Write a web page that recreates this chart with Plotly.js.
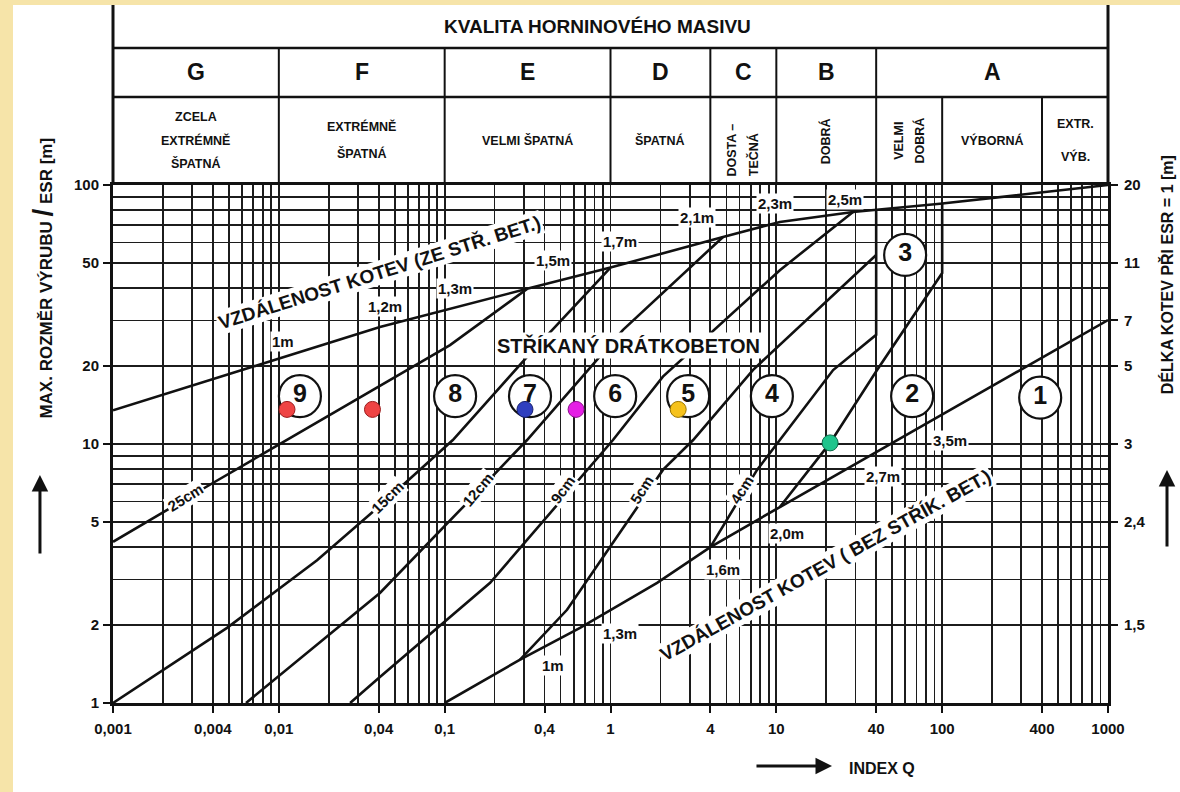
<!DOCTYPE html>
<html>
<head>
<meta charset="utf-8">
<script src="https://cdn.plot.ly/plotly-3.0.1.min.js"></script>
<style>
  html, body { margin: 0; padding: 0; background: #f6e4a9; overflow: hidden; }
  #chart { position: absolute; left: 13px; top: 5px; width: 1167px; height: 787px; background: #fff; }
</style>
</head>
<body>
<div id="chart"></div>
<script>
// Q-system support chart: rock mass quality index Q vs. span / ESR

// Rock mass classes (header)
const classBounds  = [0.001, 0.01, 0.1, 1, 4, 10, 40, 1000];
const classLetters = ['G', 'F', 'E', 'D', 'C', 'B', 'A'];
const descBounds   = [0.001, 0.01, 0.1, 1, 4, 10, 40, 100, 400, 1000];
const descLines    = [
  ['ZCELA', 'EXTRÉMNĚ', 'ŠPATNÁ'],
  ['EXTRÉMNĚ', 'ŠPATNÁ'],
  ['VELMI ŠPATNÁ'],
  ['ŠPATNÁ'],
  ['DOSTA –', 'TEČNÁ'],
  ['DOBRÁ'],
  ['VELMI', 'DOBRÁ'],
  ['VÝBORNÁ'],
  ['EXTR.', 'VÝB.']
];
const descVertical = [false, false, false, false, true, true, true, false, false];

// Axis ticks
const qTicks     = [0.001, 0.004, 0.01, 0.04, 0.1, 0.4, 1, 4, 10, 40, 100, 400, 1000];
const qTickText  = ['0,001', '0,004', '0,01', '0,04', '0,1', '0,4', '1', '4', '10', '40', '100', '400', '1000'];
const esrTicks   = [1, 2, 5, 10, 20, 50, 100];
const boltLenAt  = [100, 50, 30, 20, 10, 5, 2];
const boltLenTxt = ['20', '11', '7', '5', '3', '2,4', '1,5'];

// Bolt spacing in shotcreted area
const qBoltShot   = [0.001, 0.0407, 0.327, 1, 4.77, 10.5, 29, 97, 1000];
const esrBoltShot = [13.5, 28.3, 40, 48, 63, 72, 78.7, 84.6, 100];
// Bolt spacing in area without shotcrete
const qBoltBare   = [0.1, 0.285, 0.655, 1.91, 4, 10.5, 1000];
const esrBoltBare = [1, 1.47, 1.95, 2.91, 4, 5.71, 30.1];

// Fibre-reinforced shotcrete thickness boundaries
const q25 = [0.001, 0.004, 0.1077, 0.314];
const e25 = [4.19, 7.07, 24.1, 39.7];
const q15 = [0.001, 0.00487, 0.017, 0.0425, 0.112, 0.314, 1];
const e15 = [1, 1.95, 3.56, 5.92, 10.36, 21.7, 48];
const q12 = [0.00634, 0.0407, 0.129, 0.314, 1.19, 4.77];
const e12 = [1, 2.66, 5.71, 10.36, 27.6, 63];
const q9  = [0.0269, 0.0407, 0.188, 0.414, 1.035, 2.07, 10.5, 29];
const e9  = [1, 1.26, 2.91, 5.23, 10.36, 18.2, 46.9, 78.7];
const q5  = [0.285, 0.547, 0.993, 2.07, 3.15, 7.22, 40];
const e5  = [1.47, 2.29, 4.0, 7.94, 10.36, 19.3, 53.7];
const q4  = [4, 7.65, 10.5, 22, 40, 40];
const e4  = [4, 7.94, 10.36, 19.3, 26.4, 80.3];
// Boundary between systematic and spot bolting
const qSpot = [10.5, 21.1, 40.5, 100, 100];
const eSpot = [5.71, 10.1, 19.3, 45.7, 84.6];

// Support categories 1–9
const catText = ['1', '2', '3', '4', '5', '6', '7', '8', '9'];
const catQ    = [390, 65.9, 59.8, 9.4, 2.94, 1.067, 0.327, 0.1156, 0.0134];
const catESR  = [15.1, 15.3, 53.7, 15.3, 15.3, 15.3, 15.3, 15.3, 15.3];

// Evaluated cases
const caseQ      = [0.0112, 0.0367, 0.305, 0.62, 2.56, 21.1];
const caseESR    = [13.6, 13.6, 13.6, 13.6, 13.6, 10.1];
const caseColor  = ['#ef4444', '#ef4444', '#2f3fbf', '#e51fe5', '#f6c21c', '#1fc48c'];
const caseEdge   = ['#9a1c1c', '#9a1c1c', '#17206e', '#8a108a', '#9a7400', '#0d6b4a'];

// Line labels
const shotLabText = ['1m', '1,2m', '1,3m', '1,5m', '1,7m', '2,1m', '2,3m', '2,5m'];
const shotLabQ    = [0.0106, 0.0437, 0.1154, 0.45, 1.14, 3.33, 9.82, 25.9];
const shotLabE    = [24.8, 34.1, 40, 51.3, 60.3, 74.6, 85.2, 88.3];
const bareLabText = ['1m', '1,3m', '1,6m', '2,0m', '2,7m', '3,5m'];
const bareLabQ    = [0.45, 1.14, 4.77, 11.6, 44, 111];
const bareLabE    = [1.39, 1.86, 3.27, 4.53, 7.46, 10.36];
const thickText   = ['25cm', '15cm', '12cm', '9cm', '5cm', '4cm'];
const thickQ      = [0.00272, 0.0449, 0.159, 0.517, 1.55, 6.21];
const thickE      = [6.24, 6.24, 6.65, 6.65, 6.65, 6.65];
const thickAngle  = [-32, -45, -50, -55, -58, -58];

const FONT = 'Liberation Sans, Arial, Helvetica, sans-serif';
const INK = '#111111';
const log = Math.log10;
const PLOT_H = 518;                   // plot area height in px
const PLOT_W = 995;                   // plot area width in px
const above = px => 1 + px / PLOT_H;  // paper y for a height above the plot area

// log grid (2..9 in every decade)
const minorQ = [];
for (let k = -3; k < 3; k++) for (let d = 2; d <= 9; d++) minorQ.push(d * Math.pow(10, k));
const minorE = [];
for (let k = 0; k < 2; k++) for (let d = 2; d <= 9; d++) minorE.push(d * Math.pow(10, k));

const lineStyle = { color: INK, width: 2.6 };
const curve = (x, y) => ({ x, y, mode: 'lines', line: lineStyle, hoverinfo: 'skip' });

const traces = [
  curve(qBoltShot, esrBoltShot),
  curve(qBoltBare, esrBoltBare),
  curve(q25, e25), curve(q15, e15), curve(q12, e12), curve(q9, e9),
  curve(q5, e5), curve(q4, e4), curve(qSpot, eSpot),
  {
    x: catQ, y: catESR, text: catText, mode: 'markers+text', textposition: 'middle center',
    marker: { size: 42, color: '#fff', line: { color: INK, width: 2.2 } },
    textfont: { family: FONT, size: 25, color: INK, weight: 700 }, hoverinfo: 'skip'
  },
  {
    x: caseQ, y: caseESR, mode: 'markers',
    marker: { size: 16, color: caseColor, line: { color: caseEdge, width: 1 } }, hoverinfo: 'skip'
  },
  { x: [1], y: [1], yaxis: 'y2', mode: 'markers', marker: { opacity: 0 }, hoverinfo: 'skip' }
];

const ann = [];
const bold = size => ({ family: FONT, size, color: INK, weight: 700 });
const txt = (q, e, text, size, extra) => Object.assign({
  xref: 'x', yref: 'y', x: log(q), y: log(e), text, showarrow: false,
  xanchor: 'center', yanchor: 'middle',
  font: bold(size), bgcolor: '#fff', borderpad: 1
}, extra || {});
// annotation placed in paper units, centred on its point
const note = (x, y, text, size, extra) => Object.assign({
  xref: 'paper', yref: 'paper', x, y, text, showarrow: false,
  xanchor: 'center', yanchor: 'middle', font: bold(size)
}, extra || {});

shotLabText.forEach((t, i) => ann.push(txt(shotLabQ[i], shotLabE[i], t, 15)));
bareLabText.forEach((t, i) => ann.push(txt(bareLabQ[i], bareLabE[i], t, 15)));
thickText.forEach((t, i) => ann.push(txt(thickQ[i], thickE[i], t, 15, { textangle: thickAngle[i] })));

ann.push(txt(0.0407, 46.1, 'VZDÁLENOST KOTEV (ZE STŘ. BET.)', 19, { textangle: -17.5 }));
ann.push(txt(1.276, 24.1, 'STŘÍKANÝ DRÁTKOBETON', 20));
ann.push(txt(19.7, 3.41, 'VZDÁLENOST KOTEV ( BEZ STŘÍK. BET.)', 19, { textangle: -29 }));

// header
ann.push(note(0.487, above(158), 'KVALITA HORNINOVÉHO MASIVU', 19));
classLetters.forEach((c, i) => ann.push({
  xref: 'x', yref: 'paper', x: (log(classBounds[i]) + log(classBounds[i + 1])) / 2, y: above(113),
  xanchor: 'center', yanchor: 'middle', text: c, showarrow: false, font: bold(23)
}));
descLines.forEach((lines, i) => {
  const mid = (log(descBounds[i]) + log(descBounds[i + 1])) / 2;
  const n = lines.length;
  lines.forEach((t, j) => {
    if (descVertical[i]) {
      const off = (j - (n - 1) / 2) * 0.125;   // column offset in decades
      ann.push({ xref: 'x', yref: 'paper', x: mid + off, y: above(i === 4 ? 7 : 44),
        xanchor: 'center', yanchor: i === 4 ? 'bottom' : 'middle', text: t, textangle: -90,
        showarrow: false, font: bold(12.5) });
    } else {
      const step = n === 3 ? 23 : (i === 8 ? 32 : 27);
      ann.push({ xref: 'x', yref: 'paper', x: mid, y: above(45 - (j - (n - 1) / 2) * step),
        xanchor: 'center', yanchor: 'middle', text: t, showarrow: false, font: bold(12.5) });
    }
  });
});

// axis titles and arrows
ann.push(note(-0.071, 0.82, 'MAX. ROZMĚR VÝRUBU <span style="font-size:28px">/</span> ESR [m]', 17, { textangle: -90 }));
ann.push(note((1167 - 113) / PLOT_W, 0.826, 'DÉLKA KOTEV PŘI ESR = 1 [m]', 16, { textangle: -90 }));
ann.push(note(0.7729, -0.1255, 'INDEX Q', 16));
const arrow = (x, y, ax, ay) => ({ xref: 'paper', yref: 'paper', x, y, ax, ay, text: '',
  showarrow: true, arrowhead: 2, arrowsize: 1.1, arrowwidth: 3, arrowcolor: INK, standoff: 0 });
ann.push(arrow(-0.0734, 0.4402, 0, 80));
ann.push(arrow((1167 - 113) / PLOT_W, 0.4498, 0, 78));
ann.push(arrow(0.7226, -0.1216, -77, 0));

// header frame
const shapes = [];
const hl = { color: INK, width: 2.6 };
const yTop = above(180), yRow1 = above(137), yRow2 = above(88);
shapes.push({ type: 'line', xref: 'paper', yref: 'paper', x0: 0, x1: 0, y0: 1, y1: yTop, line: { color: INK, width: 3 } });
shapes.push({ type: 'line', xref: 'paper', yref: 'paper', x0: 1, x1: 1, y0: 1, y1: yTop, line: { color: INK, width: 3 } });
shapes.push({ type: 'line', xref: 'paper', yref: 'paper', x0: 0, x1: 1, y0: yRow1, y1: yRow1, line: hl });
shapes.push({ type: 'line', xref: 'paper', yref: 'paper', x0: 0, x1: 1, y0: yRow2, y1: yRow2, line: hl });
classBounds.slice(1, -1).forEach(q => shapes.push({ type: 'line', xref: 'x', yref: 'paper',
  x0: q, x1: q, y0: 1, y1: yRow1, line: { color: INK, width: 2 } }));
descBounds.filter(q => classBounds.indexOf(q) < 0).forEach(q => shapes.push({ type: 'line', xref: 'x', yref: 'paper',
  x0: q, x1: q, y0: 1, y1: yRow2, line: { color: INK, width: 2 } }));

const gridCol = '#1c1c1c';
const layout = {
  width: 1167, height: 787,
  margin: { l: 100, r: 72, t: 180, b: 89 },
  paper_bgcolor: '#fff', plot_bgcolor: '#fff',
  showlegend: false,
  font: { family: FONT, color: INK },
  xaxis: {
    type: 'log', range: [-3, 3], tickmode: 'array', tickvals: qTicks, ticktext: qTickText,
    ticks: 'outside', ticklen: 7, tickwidth: 2, tickcolor: INK, ticklabelstandoff: 3,
    showgrid: true, gridcolor: gridCol, gridwidth: 1.8,
    minor: { tickmode: 'array', tickvals: minorQ, showgrid: true, gridcolor: gridCol, gridwidth: 1.8, ticks: '' },
    showline: true, linecolor: INK, linewidth: 3, mirror: true, zeroline: false,
    tickfont: bold(15), fixedrange: true
  },
  yaxis: {
    type: 'log', range: [0, 2], tickmode: 'array', tickvals: esrTicks, ticktext: esrTicks.map(String),
    ticks: 'outside', ticklen: 7, tickwidth: 2, tickcolor: INK, ticklabelstandoff: 1,
    showgrid: true, gridcolor: gridCol, gridwidth: 1.8,
    minor: { tickmode: 'array', tickvals: minorE, showgrid: true, gridcolor: gridCol, gridwidth: 1.8, ticks: '' },
    showline: true, linecolor: INK, linewidth: 3, mirror: true, zeroline: false,
    tickfont: bold(15), fixedrange: true
  },
  yaxis2: {
    type: 'log', range: [0, 2], overlaying: 'y', side: 'right', tickmode: 'array',
    tickvals: boltLenAt, ticktext: boltLenTxt, ticks: 'outside', ticklen: 9, tickwidth: 2, tickcolor: INK,
    ticklabelstandoff: 3, showgrid: false, showline: false, zeroline: false,
    tickfont: bold(15), fixedrange: true
  },
  shapes, annotations: ann
};

Plotly.newPlot('chart', traces, layout, { displayModeBar: false, staticPlot: true });
</script>
</body>
</html>
